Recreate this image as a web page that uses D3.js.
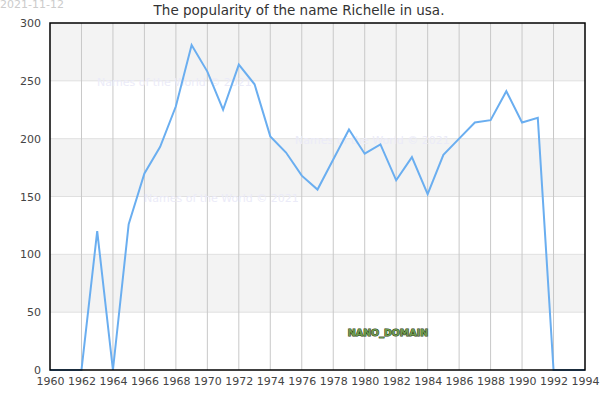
<!DOCTYPE html>
<html>
<head>
<meta charset="utf-8">
<script src="https://cdn.jsdelivr.net/npm/d3@7"></script>
<style>
  body { margin: 0; background: #fff; }
  text { font-family: "DejaVu Sans", sans-serif; }
</style>
</head>
<body>
<svg id="chart"></svg>
<script>
// Yearly counts for the name
const years = d3.range(1960, 1995);
const counts = [0, 0, 0, 120, 0, 126, 170, 193, 228, 281,
  258, 225, 264, 247, 202, 188, 168, 156, 182, 208,
  187, 195, 164, 184, 152, 186, 200, 214, 216, 241,
  214, 218, 0, 0, 0];
const yTicks = [0, 50, 100, 150, 200, 250, 300];
const xTicks = d3.range(1960, 1995, 2);

const width = 600, height = 400;
const margin = { top: 23, right: 15, bottom: 30, left: 50 };

const svg = d3.select("#chart")
  .attr("width", width)
  .attr("height", height);

const x = d3.scaleLinear()
  .domain([1960, 1994])
  .range([margin.left, width - margin.right]);

const y = d3.scaleLinear()
  .domain([0, 300])
  .range([height - margin.bottom, margin.top]);

// alternating background bands
const bands = d3.range(0, 300, 50);
svg.selectAll(".band")
  .data(bands)
  .enter().append("rect")
  .attr("x", x(1960))
  .attr("width", x(1994) - x(1960))
  .attr("y", d => y(d + 50))
  .attr("height", d => y(d) - y(d + 50))
  .attr("fill", (d, i) => i % 2 === 1 ? "#f3f3f3" : "#fff");

// horizontal grid
svg.selectAll(".hgrid")
  .data(yTicks.slice(1, -1))
  .enter().append("line")
  .attr("x1", x(1960)).attr("x2", x(1994))
  .attr("y1", d => y(d)).attr("y2", d => y(d))
  .attr("stroke", "#e0e0e0");

// vertical grid
svg.selectAll(".vgrid")
  .data(xTicks.slice(1, -1))
  .enter().append("line")
  .attr("x1", d => x(d)).attr("x2", d => x(d))
  .attr("y1", y(0)).attr("y2", y(300))
  .attr("stroke", "#c8c8c8");

// watermarks
const marks = [[97, 86], [144, 202], [295, 144]];
svg.selectAll(".wm")
  .data(marks)
  .enter().append("text")
  .attr("x", d => d[0])
  .attr("y", d => d[1])
  .style("font-size", "11px")
  .attr("fill", "#ebebf8")
  .text("Names of the World \u00a9 2021");

// the line
const line = d3.line()
  .x((d, i) => x(years[i]))
  .y(d => y(d));

svg.append("path")
  .datum(counts)
  .attr("d", line)
  .attr("fill", "none")
  .attr("stroke", "#6aaef0")
  .attr("stroke-width", 2);

// frame
svg.append("rect")
  .attr("x", x(1960))
  .attr("y", y(300))
  .attr("width", x(1994) - x(1960))
  .attr("height", y(0) - y(300))
  .attr("fill", "none")
  .attr("stroke", "#000")
  .attr("stroke-width", 1.5);

// axes
const yAxis = svg.append("g")
  .attr("transform", `translate(${margin.left},0)`)
  .call(d3.axisLeft(y).tickValues(yTicks).tickSize(0).tickPadding(9));
yAxis.select(".domain").remove();
yAxis.selectAll("text").style("font-size", "11px").attr("fill", "#444");

const xAxis = svg.append("g")
  .attr("transform", `translate(0,${height - margin.bottom})`)
  .call(d3.axisBottom(x).tickValues(xTicks).tickFormat(d3.format("d")).tickSize(0).tickPadding(7));
xAxis.select(".domain").remove();
xAxis.selectAll("text").style("font-size", "11px").attr("fill", "#444");

// title
svg.append("text")
  .attr("x", 299)
  .attr("y", 15)
  .attr("text-anchor", "middle")
  .style("font-size", "13.5px")
  .attr("fill", "#333")
  .text("The popularity of the name Richelle in usa.");

// date
svg.append("text")
  .attr("x", 0)
  .attr("y", 8)
  .style("font-size", "11px")
  .attr("fill", "#ccc")
  .text("2021-11-12");

// domain label
svg.append("text")
  .attr("x", 388)
  .attr("y", 336)
  .attr("text-anchor", "middle")
  .style("font-size", "9.5px")
  .style("font-weight", "bold")
  .attr("fill", "#6f9a4e")
  .attr("stroke", "#1f3a10")
  .attr("stroke-width", 1)
  .attr("paint-order", "stroke")
  .text("NANO_DOMAIN");
</script>
</body>
</html>
